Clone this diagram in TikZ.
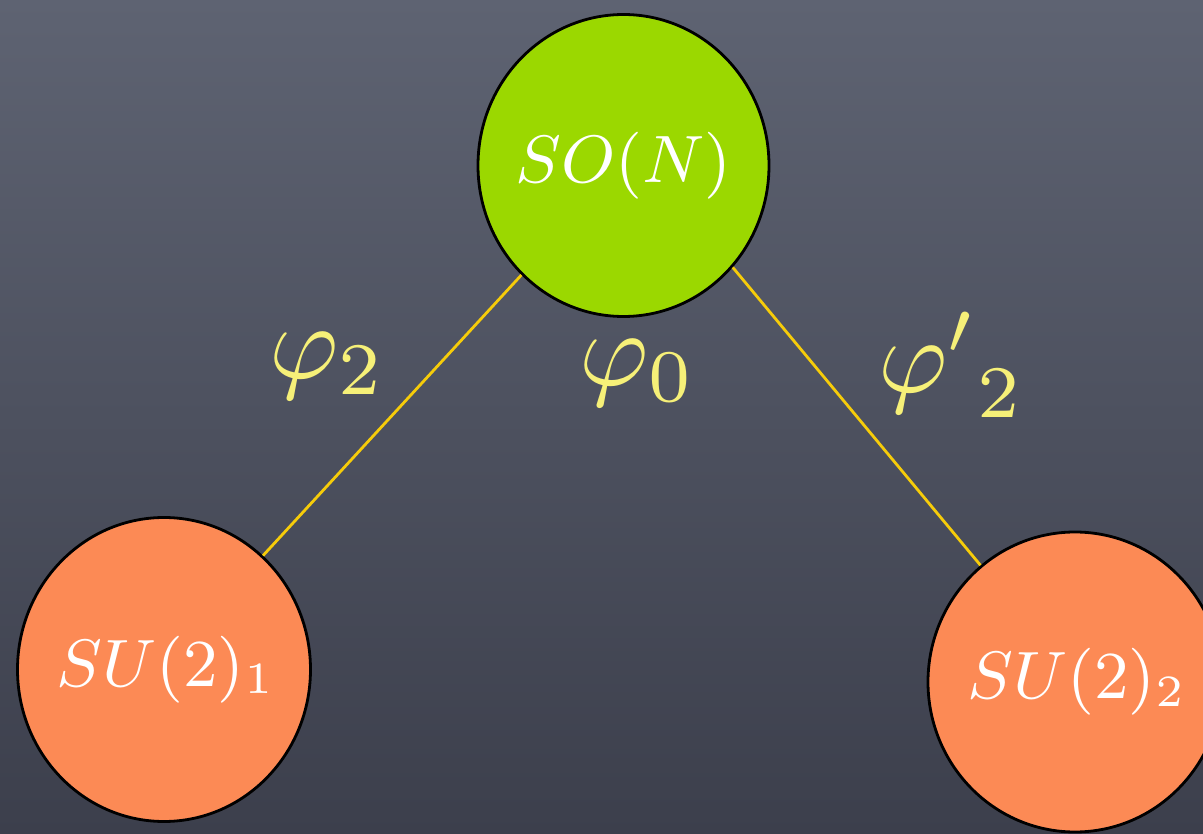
\documentclass[tikz,border=0pt]{standalone}
\usepackage{graphicx}
\usetikzlibrary{shapes.geometric}
\definecolor{bgtop}{RGB}{94,99,114}
\definecolor{bgbot}{RGB}{60,63,76}
\definecolor{sogreen}{RGB}{155,216,0}
\definecolor{suorange}{RGB}{252,138,85}
\definecolor{linkyellow}{RGB}{246,204,10}
\definecolor{labelyellow}{RGB}{246,240,120}
\newcommand{\grouptext}[1]{\makebox[0pt]{\scalebox{7.45}{\small$#1$}}}
\newcommand{\fieldtext}[1]{\scalebox{10.6}{\normalsize$#1$}}
\tikzset{
  groupnode/.style={ellipse, draw=black, line width=2.8pt, inner sep=0pt, text=white},
  link/.style={draw=linkyellow, line width=2.8pt},
  fieldlabel/.style={anchor=base west, inner sep=0pt, text=labelyellow}
}
\begin{document}
\begin{tikzpicture}[x=1pt,y=-1pt]
\shade[top color=bgtop, bottom color=bgbot] (0,0) rectangle (1203,834);
\useasboundingbox (0,0) rectangle (1203,834);
\node[groupnode, fill=sogreen, minimum width=291pt, minimum height=302pt] (so) at (623.5,165.5) {\grouptext{SO(N)}};
\node[groupnode, fill=suorange, minimum width=293pt, minimum height=304pt] (sul) at (164,669.5) {\raisebox{2pt}{\hspace*{4pt}\grouptext{SU(2)_1}}};
\node[groupnode, fill=suorange, minimum width=294pt, minimum height=300pt] (sur) at (1075,682) {\raisebox{-4pt}{\hspace*{4pt}\grouptext{SU(2)_2}}};
\path[link] (so.-133) -- (sul.49);
\path[link] (so.-43) -- (sur.129);
\node[fieldlabel] (p2) at (269,379) {\fieldtext{\varphi_2}};
\node[fieldlabel] (p0) at (579,386) {\fieldtext{\varphi_0}};
\node[fieldlabel] (pp2) at (878,392) {\fieldtext{{\varphi'}_2}};
\end{tikzpicture}
\end{document}
